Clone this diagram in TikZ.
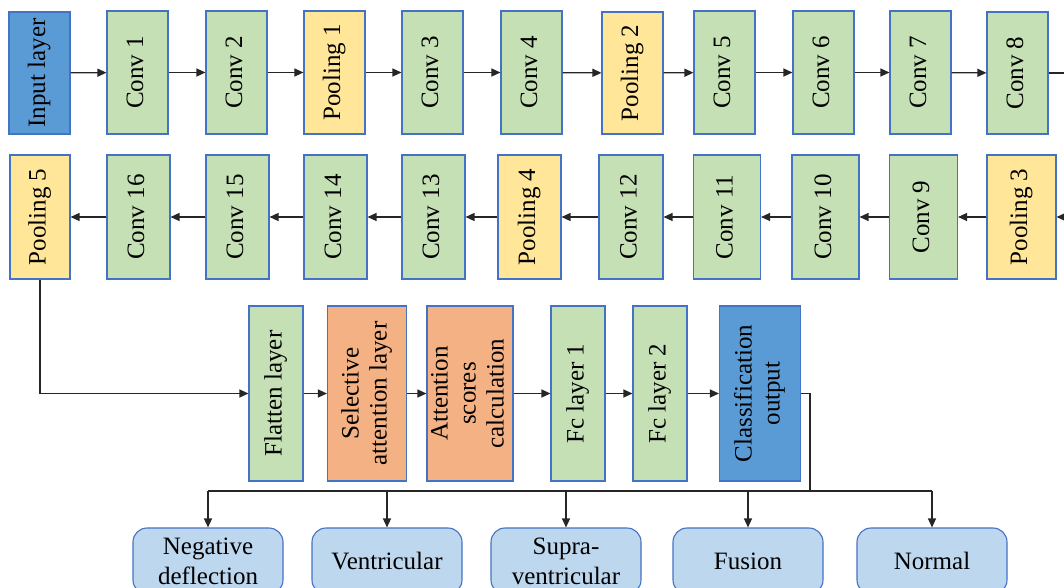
\documentclass[tikz,border=0pt]{standalone}
\usepackage{fontspec}
\setmainfont{Liberation Serif}
\usetikzlibrary{arrows.meta}
\definecolor{cblue}{HTML}{5B9BD5}
\definecolor{cgreen}{HTML}{C5E0B4}
\definecolor{cyellow}{HTML}{FFE699}
\definecolor{corange}{HTML}{F4B183}
\definecolor{clight}{HTML}{BDD7EE}
\definecolor{cedge}{HTML}{4472C4}
\tikzset{
  blk/.style={draw=cedge, line width=1.1pt, inner sep=0pt, font=\fontsize{25}{28}\selectfont},
  inblk/.style={blk, fill=cblue},
  convblk/.style={blk, fill=cgreen},
  poolblk/.style={blk, fill=cyellow},
  attblk/.style={blk, fill=corange},
  outblk/.style={draw=cedge, line width=1.1pt, fill=clight, rounded corners=14pt, inner sep=0pt,
    minimum width=150pt, minimum height=66pt, align=center, font=\fontsize{25}{30}\selectfont},
  conn/.style={line width=1.3pt, draw=black!85, -{Triangle[length=9pt,width=8pt]}},
  plain/.style={line width=1.3pt, draw=black!85}
}
\newcommand{\vt}[1]{\rotatebox{90}{\begin{tabular}{@{}c@{}}#1\end{tabular}}}
\begin{document}
\begin{tikzpicture}[x=1pt,y=-1pt]
\useasboundingbox (0,0) rectangle (1064,588);
\clip (0,0) rectangle (1064,588);
% top row
\node[inblk, minimum width=61pt, minimum height=122pt] (in) at (39.5,73) {\vt{Input layer}};
\node[convblk, minimum width=61pt, minimum height=123pt] (c1) at (137.5,72.5) {\vt{Conv 1}};
\node[convblk, minimum width=61pt, minimum height=123pt] (c2) at (236.5,72.5) {\vt{Conv 2}};
\node[poolblk, minimum width=61pt, minimum height=123pt] (p1) at (334.5,72.5) {\vt{Pooling 1}};
\node[convblk, minimum width=61pt, minimum height=123pt] (c3) at (432.5,72.5) {\vt{Conv 3}};
\node[convblk, minimum width=61pt, minimum height=123pt] (c4) at (531.5,72.5) {\vt{Conv 4}};
\node[poolblk, minimum width=61pt, minimum height=122pt] (p2) at (632.5,73) {\vt{Pooling 2}};
\node[convblk, minimum width=61pt, minimum height=123pt] (c5) at (724.5,72.5) {\vt{Conv 5}};
\node[convblk, minimum width=61pt, minimum height=123pt] (c6) at (823.5,72.5) {\vt{Conv 6}};
\node[convblk, minimum width=61pt, minimum height=123pt] (c7) at (920.5,72.5) {\vt{Conv 7}};
\node[convblk, minimum width=61pt, minimum height=122pt] (c8) at (1017.5,73) {\vt{Conv 8}};
% middle row
\node[poolblk, minimum width=60pt, minimum height=124pt] (p5) at (40,217) {\vt{Pooling 5}};
\node[convblk, minimum width=63pt, minimum height=124pt] (c16) at (138.5,217) {\vt{Conv 16}};
\node[convblk, minimum width=63pt, minimum height=124pt] (c15) at (237.5,217) {\vt{Conv 15}};
\node[convblk, minimum width=63pt, minimum height=124pt] (c14) at (335.5,217) {\vt{Conv 14}};
\node[convblk, minimum width=63pt, minimum height=124pt] (c13) at (433.5,217) {\vt{Conv 13}};
\node[poolblk, minimum width=63pt, minimum height=124pt] (p4) at (529.5,217) {\vt{Pooling 4}};
\node[convblk, minimum width=64pt, minimum height=124pt] (c12) at (631,217) {\vt{Conv 12}};
\node[convblk, minimum width=67pt, minimum height=124pt] (c11) at (727,217) {\vt{Conv 11}};
\node[convblk, minimum width=67pt, minimum height=124pt] (c10) at (825.5,217) {\vt{Conv 10}};
\node[convblk, minimum width=68pt, minimum height=124pt] (c9) at (923.5,217) {\vt{Conv 9}};
\node[poolblk, minimum width=69pt, minimum height=124pt] (p3) at (1021.5,217) {\vt{Pooling 3}};
% third row
\node[convblk, minimum width=54pt, minimum height=175pt] (fl) at (276,393.5) {\vt{Flatten layer}};
\node[attblk, minimum width=79pt, minimum height=175pt] (sa) at (367,393.5) {\vt{Selective\\attention layer}};
\node[attblk, minimum width=86pt, minimum height=175pt] (as) at (470,393.5) {\vt{Attention\\scores\\calculation}};
\node[convblk, minimum width=54pt, minimum height=175pt] (f1) at (578,393.5) {\vt{Fc layer 1}};
\node[convblk, minimum width=54pt, minimum height=175pt] (f2) at (660,393.5) {\vt{Fc layer 2}};
\node[inblk, minimum width=81pt, minimum height=175pt] (co) at (760,393.5) {\vt{Classification\\output}};
% outputs
\node[outblk] (o1) at (208,561) {Negative\\deflection};
\node[outblk] (o2) at (387,561) {Ventricular};
\node[outblk] (o3) at (566,561) {Supra-\\ventricular};
\node[outblk] (o4) at (748,561) {Fusion};
\node[outblk] (o5) at (932,561) {Normal};
% connectors top row
\draw[conn] (in) -- (c1);
\draw[conn] (c1) -- (c2);
\draw[conn] (c2) -- (p1);
\draw[conn] (p1) -- (c3);
\draw[conn] (c3) -- (c4);
\draw[conn] (c4) -- (p2);
\draw[conn] (p2) -- (c5);
\draw[conn] (c5) -- (c6);
\draw[conn] (c6) -- (c7);
\draw[conn] (c7) -- (c8);
\coordinate (tr) at (1090,73);
\coordinate (mr) at (1090,217);
\draw[conn] (c8.east) -- (tr) -- (mr) -- (p3.east);
% middle row
\draw[conn] (p3) -- (c9);
\draw[conn] (c9) -- (c10);
\draw[conn] (c10) -- (c11);
\draw[conn] (c11) -- (c12);
\draw[conn] (c12) -- (p4);
\draw[conn] (p4) -- (c13);
\draw[conn] (c13) -- (c14);
\draw[conn] (c14) -- (c15);
\draw[conn] (c15) -- (c16);
\draw[conn] (c16) -- (p5);
% to third row
\draw[conn] (p5.south) |- (fl.west);
\draw[conn] (fl) -- (sa);
\draw[conn] (sa) -- (as);
\draw[conn] (as) -- (f1);
\draw[conn] (f1) -- (f2);
\draw[conn] (f2) -- (co);
% branching
\coordinate (br) at (810,491);
\draw[plain] (co.east) -| (br);
\draw[plain] (o1.north |- br) -- (o5.north |- br);
\draw[conn] (o1.north |- br) -- (o1.north);
\draw[conn] (o2.north |- br) -- (o2.north);
\draw[conn] (o3.north |- br) -- (o3.north);
\draw[conn] (o4.north |- br) -- (o4.north);
\draw[conn] (o5.north |- br) -- (o5.north);
\end{tikzpicture}
\end{document}
